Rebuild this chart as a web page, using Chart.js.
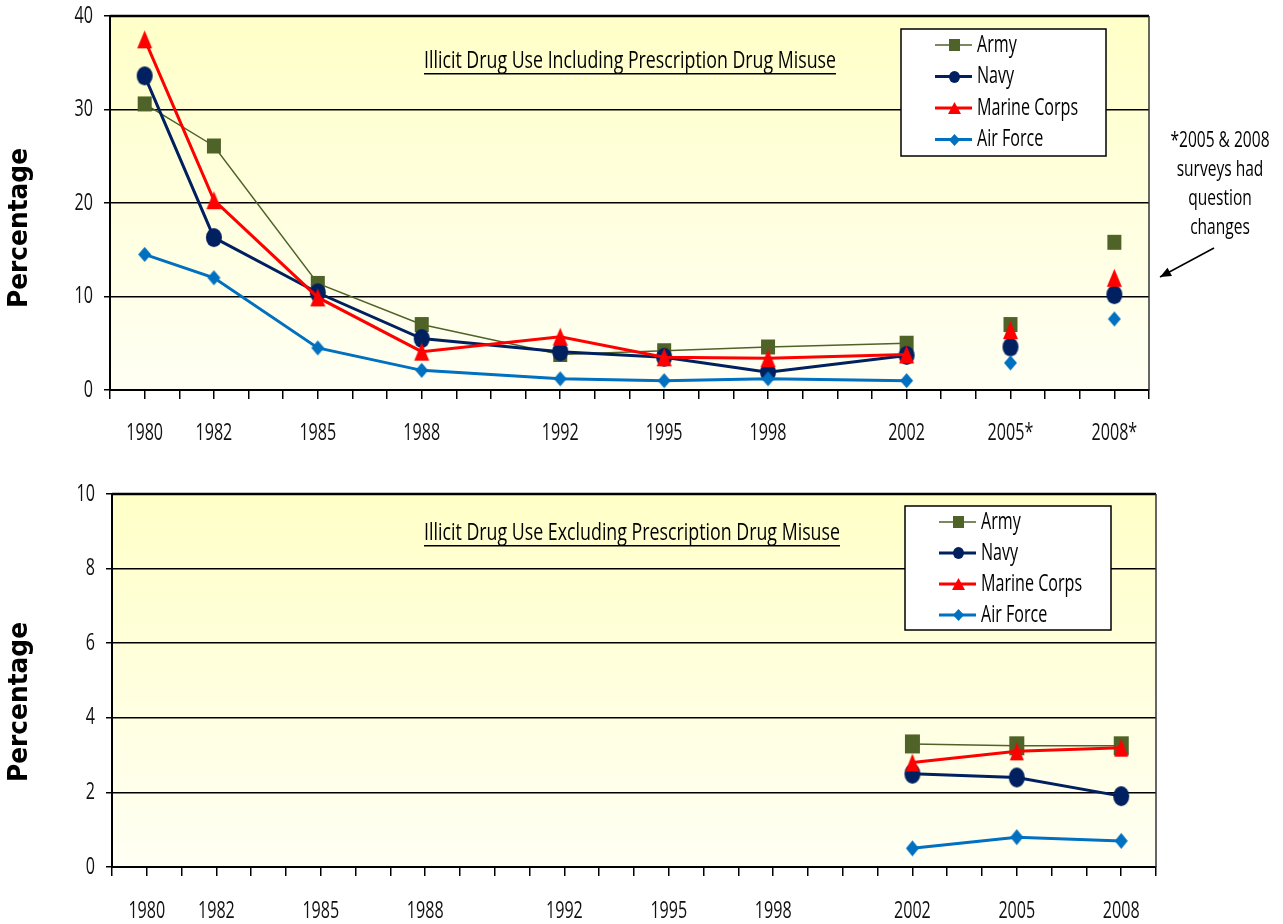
<!DOCTYPE html>
<html>
<head>
<meta charset="utf-8">
<script src="https://cdn.jsdelivr.net/npm/chart.js@4/dist/chart.umd.min.js"></script>
<style>
  body { margin: 0; background: #fff; }
  .wrap { position: absolute; left: 0; width: 1283px; }
</style>
</head>
<body>
<div class="wrap" style="top:0;height:460px"><canvas id="topChart" width="1283" height="460"></canvas></div>
<div class="wrap" style="top:460px;height:464px"><canvas id="bottomChart" width="1283" height="464"></canvas></div>
<script>
// --- data ---
var tickYears = [1980, 1982, 1985, 1988, 1992, 1995, 1998, 2002, 2005, 2008];
var topTickLabels = ['1980', '1982', '1985', '1988', '1992', '1995', '1998', '2002', '2005*', '2008*'];
var bottomTickLabels = ['1980', '1982', '1985', '1988', '1992', '1995', '1998', '2002', '2005', '2008'];

var topYears = [1980, 1982, 1985, 1988, 1992, 1995, 1998, 2002, 2005, 2008];
var topArmy = [30.6, 26.1, 11.4, 7.0, 3.8, 4.2, 4.6, 5.0, 7.0, 15.8];
var topNavy = [33.6, 16.3, 10.4, 5.5, 4.1, 3.5, 1.9, 3.7, 4.6, 10.2];
var topMarines = [37.5, 20.3, 9.9, 4.1, 5.7, 3.5, 3.4, 3.8, 6.4, 12.0];
var topAirForce = [14.5, 12.0, 4.5, 2.1, 1.2, 1.0, 1.2, 1.0, 2.9, 7.6];
var lastLinkedYear = 2002; // 2005 & 2008 not joined to the trend line

var bottomYears = [2002, 2005, 2008];
var bottomArmy = [3.3, 3.25, 3.25];
var bottomNavy = [2.5, 2.4, 1.9];
var bottomMarines = [2.8, 3.1, 3.2];
var bottomAirForce = [0.5, 0.8, 0.7];

var seriesNames = ['Army', 'Navy', 'Marine Corps', 'Air Force'];
var seriesColors = ['#4F6228', '#002060', '#FF0000', '#0070C0'];
var seriesShapes = ['square', 'circle', 'triangle', 'diamond'];
var seriesWidths = [1.5, 3, 3, 3];

var FONT = "'Open Sans', sans-serif";
var SX = 0.7; // the original text is narrow (Calibri-like)

// little marker images, a bit taller than wide like the original
function makeMarker(shape, w, h, color) {
    var c = document.createElement('canvas');
    c.width = Math.ceil(w) + 2; c.height = Math.ceil(h) + 2;
    var g = c.getContext('2d');
    var cx = c.width / 2, cy = c.height / 2;
    g.fillStyle = color;
    g.beginPath();
    if (shape === 'square') {
        g.rect(cx - w / 2, cy - h / 2, w, h);
    } else if (shape === 'circle') {
        g.ellipse(cx, cy, w / 2, h / 2, 0, 0, Math.PI * 2);
    } else if (shape === 'triangle') {
        g.moveTo(cx, cy - h / 2); g.lineTo(cx + w / 2, cy + h / 2); g.lineTo(cx - w / 2, cy + h / 2); g.closePath();
    } else {
        g.moveTo(cx, cy - h / 2); g.lineTo(cx + w / 2, cy); g.lineTo(cx, cy + h / 2); g.lineTo(cx - w / 2, cy); g.closePath();
    }
    g.fill();
    return c;
}

var topMarkerSize = [[14, 15], [16, 19], [15, 18], [13, 15]];
var bottomMarkerSize = [[15, 19], [16, 20], [14, 18], [13, 16]];
var legendMarkerSize = [[11, 12], [11, 12], [13, 12], [11, 12]];

var legendMarkers = seriesShapes.map(function (s, i) {
    return makeMarker(s, legendMarkerSize[i][0], legendMarkerSize[i][1], seriesColors[i]);
});

function pts(xs, ys) {
    return xs.map(function (x, i) { return { x: x, y: ys[i] }; });
}

function makeDatasets(xs, lists, sizes, gapYear) {
    return lists.map(function (ys, i) {
        var ds = {
            label: seriesNames[i],
            data: pts(xs, ys),
            borderColor: seriesColors[i],
            backgroundColor: seriesColors[i],
            borderWidth: seriesWidths[i],
            pointStyle: makeMarker(seriesShapes[i], sizes[i][0], sizes[i][1], seriesColors[i]),
            pointRadius: 8,
            pointBorderWidth: 0,
            tension: 0,
            order: 4 - i
        };
        if (gapYear) {
            ds.segment = {
                borderColor: function (ctx) { return ctx.p0.parsed.x >= gapYear ? 'rgba(0,0,0,0)' : undefined; }
            };
        }
        return ds;
    });
}

function narrowText(ctx, text, x, y, align, font, sx) {
    ctx.save();
    ctx.font = font;
    ctx.textBaseline = 'middle';
    ctx.textAlign = 'left';
    var w = ctx.measureText(text).width * sx;
    var x0 = align === 'center' ? x - w / 2 : (align === 'right' ? x - w : x);
    ctx.translate(x0, y);
    ctx.scale(sx, 1);
    ctx.fillText(text, 0, 0);
    ctx.restore();
    return w;
}

// background gradient + frame
var plotBg = {
    id: 'plotBg',
    beforeDraw: function (chart) {
        var a = chart.chartArea, ctx = chart.ctx;
        var g = ctx.createLinearGradient(0, a.top, 0, a.bottom);
        g.addColorStop(0, '#FFFFC8');
        g.addColorStop(1, '#FFFFF4');
        ctx.save();
        ctx.fillStyle = g;
        ctx.fillRect(a.left, a.top, a.right - a.left, a.bottom - a.top);
        ctx.restore();
    },
    beforeDatasetsDraw: function (chart) {
        var a = chart.chartArea, ctx = chart.ctx;
        ctx.save();
        ctx.strokeStyle = '#000';
        ctx.lineWidth = 2.5;
        ctx.beginPath();
        ctx.moveTo(a.left, a.top); ctx.lineTo(a.right, a.top);
        ctx.stroke();
        ctx.strokeStyle = '#333';
        ctx.lineWidth = 1.5;
        ctx.beginPath();
        ctx.moveTo(a.right, a.top); ctx.lineTo(a.right, a.bottom);
        ctx.stroke();
        ctx.restore();
    }
};

// tick labels, headings, legend, y title, note
var extras = {
    id: 'extras',
    afterDraw: function (chart, args, o) {
        var ctx = chart.ctx;
        var xs = chart.scales.x, ys = chart.scales.y;
        ctx.save();
        ctx.fillStyle = '#111';
        tickYears.forEach(function (yr, k) {
            narrowText(ctx, o.tickLabels[k], xs.getPixelForValue(yr), o.xLabelY, 'center', '23px ' + FONT, SX);
        });
        ys.ticks.forEach(function (t) {
            narrowText(ctx, String(t.value), ys.left + ys.width - 17, ys.getPixelForValue(t.value), 'right', '23px ' + FONT, SX);
        });

        // y title
        ctx.save();
        ctx.translate(o.yTitleX, o.yTitleY);
        ctx.rotate(-Math.PI / 2);
        ctx.fillStyle = '#000';
        var f = "bold 27px 'DejaVu Sans', Verdana, sans-serif";
        ctx.font = f;
        var tw = ctx.measureText('Percentage').width;
        narrowText(ctx, 'Percentage', 0, 0, 'center', f, 160 / tw);
        ctx.restore();

        // heading, underlined
        ctx.fillStyle = '#000';
        ctx.font = '23px ' + FONT;
        var hs = o.headW / ctx.measureText(o.heading).width;
        narrowText(ctx, o.heading, o.headX, o.headY, 'center', '23px ' + FONT, hs);
        ctx.fillRect(o.headX - o.headW / 2, o.headY + 12, o.headW, 1.5);

        // legend box
        var L = o.legend;
        ctx.fillStyle = '#fff';
        ctx.fillRect(L.x, L.y, L.w, L.h);
        ctx.strokeStyle = '#000';
        ctx.lineWidth = 1.5;
        ctx.strokeRect(L.x, L.y, L.w, L.h);
        for (var i = 0; i < seriesNames.length; i++) {
            var ry = L.y + L.firstRow + i * L.rowGap;
            ctx.strokeStyle = seriesColors[i];
            ctx.lineWidth = seriesWidths[i];
            ctx.beginPath();
            ctx.moveTo(L.x + 34, ry); ctx.lineTo(L.x + 71, ry);
            ctx.stroke();
            var m = legendMarkers[i];
            ctx.drawImage(m, Math.round(L.x + 53 - m.width / 2), Math.round(ry - m.height / 2));
            ctx.fillStyle = '#000';
            narrowText(ctx, seriesNames[i], L.x + 76, ry, 'left', '23px ' + FONT, SX);
        }

        // side note with arrow
        if (o.note) {
            ctx.fillStyle = '#000';
            o.note.lines.forEach(function (t, k) {
                narrowText(ctx, t, o.note.x, o.note.y + k * 29, 'center', '21px ' + FONT, 0.74);
            });
            var ax = o.note.arrow;
            ctx.strokeStyle = '#000';
            ctx.lineWidth = 1.5;
            ctx.beginPath();
            ctx.moveTo(ax[0], ax[1]); ctx.lineTo(ax[2], ax[3]);
            ctx.stroke();
            var ang = Math.atan2(ax[3] - ax[1], ax[2] - ax[0]);
            ctx.beginPath();
            ctx.moveTo(ax[2], ax[3]);
            ctx.lineTo(ax[2] - 12 * Math.cos(ang - 0.4), ax[3] - 12 * Math.sin(ang - 0.4));
            ctx.lineTo(ax[2] - 12 * Math.cos(ang + 0.4), ax[3] - 12 * Math.sin(ang + 0.4));
            ctx.closePath();
            ctx.fill();
        }
        ctx.restore();
    }
};

function makeChart(id, datasets, yMax, yStep, pad, yWidth, xHeight, extraOpts) {
    return new Chart(document.getElementById(id), {
        type: 'line',
        data: { datasets: datasets },
        plugins: [plotBg, extras],
        options: {
            responsive: false,
            animation: false,
            layout: { padding: pad },
            plugins: {
                legend: { display: false },
                tooltip: { enabled: false },
                extras: extraOpts
            },
            scales: {
                x: {
                    type: 'linear',
                    min: 1979,
                    max: 2009,
                    afterFit: function (s) { s.height = xHeight; },
                    ticks: {
                        stepSize: 1,
                        autoSkip: false,
                        maxRotation: 0,
                        callback: function () { return ''; }
                    },
                    grid: { drawOnChartArea: false, drawTicks: true, tickLength: 9, color: '#000', lineWidth: 1.5 },
                    border: { color: '#000', width: 2 }
                },
                y: {
                    min: 0,
                    max: yMax,
                    afterFit: function (s) { s.width = yWidth; },
                    ticks: {
                        stepSize: yStep,
                        callback: function () { return ''; }
                    },
                    grid: { color: '#000', lineWidth: 1.5, tickLength: 6 },
                    border: { color: '#000', width: 2 }
                }
            }
        }
    });
}

makeChart('topChart',
    makeDatasets(topYears, [topArmy, topNavy, topMarines, topAirForce], topMarkerSize, lastLinkedYear),
    40, 10,
    { left: 0, right: 134, top: 16, bottom: 0 }, 110, 70,
    {
        tickLabels: topTickLabels, xLabelY: 433,
        yTitleX: 20, yTitleY: 228,
        heading: 'Illicit Drug Use Including Prescription Drug Misuse', headX: 630, headY: 61, headW: 412,
        legend: { x: 901, y: 29, w: 205, h: 127, firstRow: 16, rowGap: 31.5 },
        note: { x: 1220, y: 141, lines: ['*2005 & 2008', 'surveys had', 'question', 'changes'], arrow: [1214, 248, 1160, 277] }
    });

makeChart('bottomChart',
    makeDatasets(bottomYears, [bottomArmy, bottomNavy, bottomMarines, bottomAirForce], bottomMarkerSize, null),
    10, 2,
    { left: 0, right: 127, top: 34, bottom: 0 }, 112, 57,
    {
        tickLabels: bottomTickLabels, xLabelY: 451,
        yTitleX: 20, yTitleY: 242,
        heading: 'Illicit Drug Use Excluding Prescription Drug Misuse', headX: 632, headY: 73, headW: 416,
        legend: { x: 905, y: 46, w: 206, h: 124, firstRow: 16, rowGap: 31 },
        note: null
    });
</script>
</body>
</html>
